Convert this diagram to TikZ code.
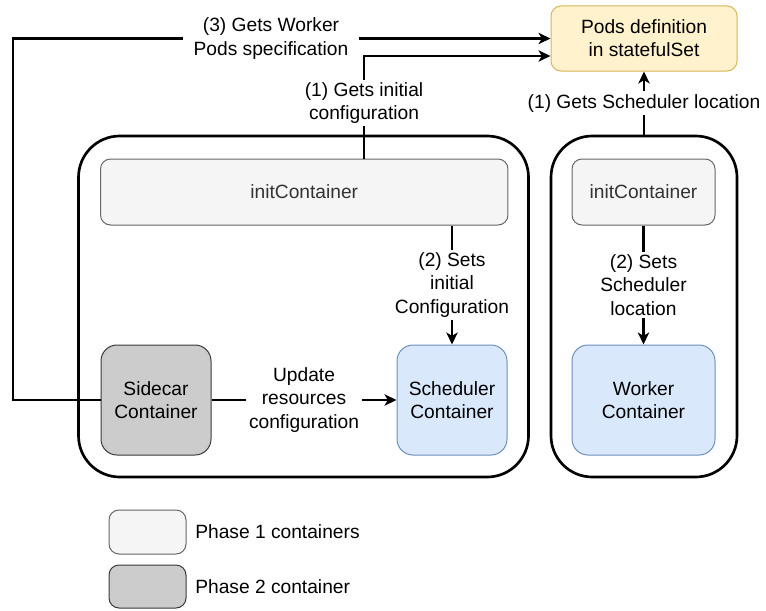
\documentclass[tikz,border=0pt]{standalone}
\usepackage{fontspec}
\setmainfont{Liberation Sans}
\usetikzlibrary{arrows.meta,calc}
\definecolor{podfill}{HTML}{FFF2CC}
\definecolor{poddraw}{HTML}{D6B656}
\definecolor{p1fill}{HTML}{F5F5F5}
\definecolor{p1draw}{HTML}{666666}
\definecolor{p2fill}{HTML}{CCCCCC}
\definecolor{p2draw}{HTML}{36393D}
\definecolor{bluefill}{HTML}{DAE8FC}
\definecolor{bluedraw}{HTML}{6C8EBF}
\definecolor{greytext}{HTML}{333333}
\newcommand\dfont{\fontsize{14.4}{17.4}\selectfont}
\begin{document}
\begin{tikzpicture}[x=0.75pt,y=-0.75pt,
  every node/.style={font=\dfont},
  box/.style={draw, line width=0.75pt, rounded corners=7.5pt, align=center, inner sep=0pt},
  ph1/.style={box, fill=p1fill, draw=p1draw, text=greytext},
  ph2/.style={box, fill=p2fill, draw=p2draw, rounded corners=12pt, text=black},
  blue/.style={box, fill=bluefill, draw=bluedraw, rounded corners=12pt},
  outer/.style={draw, line width=2pt, rounded corners=31pt, inner sep=0pt},
  conn/.style={line width=2pt, -{Stealth[length=9pt,width=8.5pt,inset=2.5pt]}},
  lab/.style={fill=white, inner sep=2pt, align=center}]
\useasboundingbox (0,0) rectangle (766,610);

% outer pods
\node[outer, minimum width=337.5pt, minimum height=255.75pt] (outerL) at (303.5,306.5) {};
\node[outer, minimum width=139.5pt, minimum height=255.75pt] (outerR) at (644,306.5) {};

% target
\node[box, fill=podfill, draw=poddraw, minimum width=139.5pt, minimum height=48.75pt] (pods) at (644,38.5) {Pods definition\\in statefulSet};

% inner containers
\node[ph1, minimum width=305.6pt, minimum height=49.5pt] (initL) at (304.25,192) {initContainer};
\node[ph1, minimum width=107.25pt, minimum height=49.5pt] (initR) at (643.5,192) {initContainer};
\node[ph2, minimum width=82.5pt, minimum height=82.5pt] (sidecar) at (156,400) {Sidecar\\Container};
\node[blue, minimum width=82.5pt, minimum height=82.5pt] (scheduler) at (452,400) {Scheduler\\Container};
\node[blue, minimum width=107.25pt, minimum height=82.5pt] (worker) at (643.5,400) {Worker\\Container};

% helper coordinates
\coordinate (lc) at (13,400);
\coordinate (ix) at (364,0);
\coordinate (py) at (0,56);

% connectors
\draw[conn] (sidecar.west) -- (lc) |- (pods.west) node[lab, pos=0.74, inner xsep=8pt] {(3) Gets Worker\\Pods specification};
\draw[conn] (initL.north -| ix) |- (pods.west |- py) node[lab, pos=0.27] {(1) Gets initial\\configuration};
\draw[conn] (outerR.north) -- (pods.south) node[lab, midway] {(1) Gets Scheduler location};
\draw[conn] (initL.south -| scheduler.north) -- (scheduler.north) node[lab, midway] {(2) Sets\\initial\\Configuration};
\draw[conn] (initR.south) -- (worker.north) node[lab, midway] {(2) Sets\\Scheduler\\location};
\draw[conn] (sidecar.east) -- (scheduler.west) node[lab, midway] {Update\\resources\\configuration};

% legend
\node[ph1, minimum width=57.75pt, minimum height=33pt] (leg1) at (147.5,532) {};
\node[ph2, rounded corners=7.5pt, minimum width=57.75pt, minimum height=32.25pt] (leg2) at (147.5,586.5) {};
\node[anchor=west, inner sep=0pt] (leg1t) at (195,532) {Phase 1 containers};
\node[anchor=west, inner sep=0pt] (leg2t) at (195,587) {Phase 2 container};
\end{tikzpicture}
\end{document}
